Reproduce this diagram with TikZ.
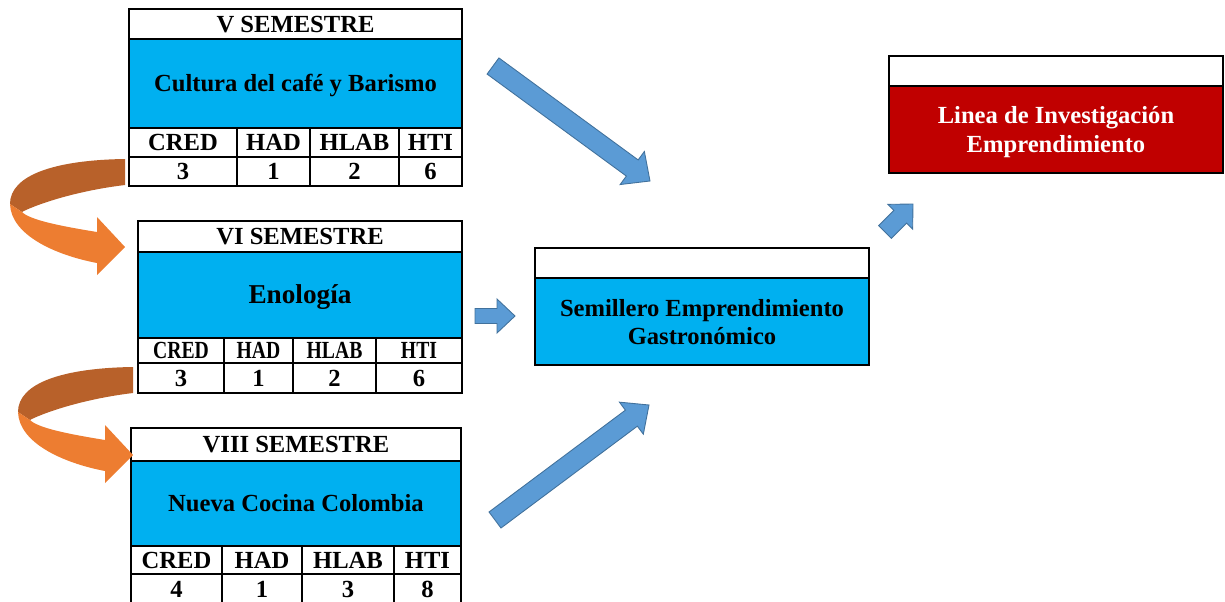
\documentclass[tikz,border=0pt]{standalone}
\usepackage{fontspec}
\setmainfont{Liberation Serif}
\usetikzlibrary{calc}

\definecolor{celeste}{HTML}{00B0F0}
\definecolor{rojo}{HTML}{C00000}
\definecolor{azularr}{HTML}{5B9BD5}
\definecolor{bordearr}{HTML}{41719C}
\definecolor{naranja}{HTML}{ED7D31}
\definecolor{cafe}{HTML}{B8612A}

\tikzset{
  tab/.style={draw=black, line width=0.7pt},
  txt/.style={font=\bfseries\fontsize{14}{15.5}\selectfont, text height=9.3pt, text depth=0pt, inner sep=0pt, align=center},
  azul/.style={fill=azularr, draw=bordearr, line width=0.5pt},
}

% block arrow: from, to, shaft half width, head half width, head length
\newcommand{\bluearrow}[5]{%
  \coordinate (hb) at ($(#2)!#5!(#1)$);
  \filldraw[azul] ($(#1)!#3!90:(#2)$) -- ($(hb)!#3!90:(#2)$) -- ($(hb)!#4!90:(#2)$) -- (#2)
    -- ($(hb)!#4!-90:(#2)$) -- ($(hb)!#3!-90:(#2)$) -- ($(#1)!#3!-90:(#2)$) -- cycle;}

% curved ribbon arrow, placed at its tail
\newcommand{\cinta}[1]{%
  \begin{scope}[shift={(#1)}]
    \fill[cafe] (0,0) .. controls (-70,1) and (-115,16) .. (-115,45) -- (-103,53)
      .. controls (-90,46) and (-50,32) .. (0,26) -- cycle;
    \fill[naranja] (-115,45) .. controls (-114,76) and (-70,96) .. (-28,104) -- (-28,116)
      -- (0,88) -- (-28,58) -- (-28,73) .. controls (-65,67) and (-95,61) .. (-103,53) -- cycle;
  \end{scope}}

\begin{document}
\begin{tikzpicture}[x=0.02cm,y=-0.02cm]
  \useasboundingbox (0,0) rectangle (1225,602);
  \clip (0,0) rectangle (1225,602);

  % V semestre
  \filldraw[tab, fill=white] (129,9) rectangle (462,186);
  \filldraw[tab, fill=celeste] (129,39) rectangle (462,128);
  \draw[tab] (129,157) -- (462,157) (237,128) -- (237,186) (310,128) -- (310,186) (399,128) -- (399,186);
  \node[txt] (v-sem) at (295.5,24) {V SEMESTRE};
  \node[txt] (v-mat) at (295.5,83.5) {Cultura del café y Barismo};
  \foreach \xx/\lab/\num [count=\i] in {183/CRED/3, 273.5/HAD/1, 354.5/HLAB/2, 430.5/HTI/6}{
    \node[txt] (v-t\i) at (\xx,142.5) {\lab};
    \node[txt] (v-n\i) at (\xx,171.5) {\num};
  }

  % VI semestre
  \filldraw[tab, fill=white] (138,221) rectangle (462,393);
  \filldraw[tab, fill=celeste] (138,252) rectangle (462,338);
  \draw[tab] (138,363) -- (462,363) (224,338) -- (224,393) (293,338) -- (293,393) (376,338) -- (376,393);
  \node[txt] (vi-sem) at (300,236.5) {VI SEMESTRE};
  \node[txt, font=\bfseries\fontsize{15.5}{17}\selectfont] (vi-mat) at (300,295) {Enología};
  \foreach \xx/\lab/\num [count=\i] in {181/CRED/3, 258.5/HAD/1, 334.5/HLAB/2, 419/HTI/6}{
    \node[txt] (vi-t\i) at (\xx,350.5) {\scalebox{0.8}[1]{\lab}};
    \node[txt] (vi-n\i) at (\xx,378) {\num};
  }

  % VIII semestre
  \filldraw[tab, fill=white] (131,428) rectangle (461,612);
  \filldraw[tab, fill=celeste] (131,461) rectangle (461,546);
  \draw[tab] (131,574) -- (461,574) (222,546) -- (222,612) (302,546) -- (302,612) (394,546) -- (394,612);
  \node[txt] (viii-sem) at (296,444.5) {VIII SEMESTRE};
  \node[txt] (viii-mat) at (296,503.5) {Nueva Cocina Colombia};
  \foreach \xx/\lab/\num [count=\i] in {176.5/CRED/4, 262/HAD/1, 348/HLAB/3, 427.5/HTI/8}{
    \node[txt] (viii-t\i) at (\xx,560) {\lab};
    \node[txt] (viii-n\i) at (\xx,589) {\num};
  }

  % semillero
  \filldraw[tab, fill=white] (535,248) rectangle (869,278);
  \filldraw[tab, fill=celeste] (535,278) rectangle (869,365);
  \node[txt] (semillero) at (702,336) {Semillero Emprendimiento\\Gastronómico};

  % linea
  \filldraw[tab, fill=white] (889,56) rectangle (1223,86);
  \filldraw[tab, fill=rojo] (889,86) rectangle (1223,173);
  \node[txt, text=white, font=\bfseries\fontsize{14}{16.4}\selectfont] (linea) at (1056,144.5) {Linea de Investigación\\Emprendimiento};

  % orange arrows
  \coordinate (c1) at (125,159);
  \coordinate (c2) at (133,367);
  \cinta{c1}
  \cinta{c2}

  % blue arrows
  \coordinate (f1a) at (493,66);  \coordinate (f1b) at (650,181);
  \coordinate (f2a) at (475,316); \coordinate (f2b) at (515,316);
  \coordinate (f3a) at (495,520); \coordinate (f3b) at (649,405);
  \coordinate (f4a) at (885,232); \coordinate (f4b) at (913,204);
  \bluearrow{f1a}{f1b}{0.2cm}{0.41cm}{0.44cm}
  \bluearrow{f2a}{f2b}{0.15cm}{0.34cm}{0.36cm}
  \bluearrow{f3a}{f3b}{0.2cm}{0.4cm}{0.44cm}
  \bluearrow{f4a}{f4b}{0.18cm}{0.35cm}{0.36cm}
\end{tikzpicture}
\end{document}
